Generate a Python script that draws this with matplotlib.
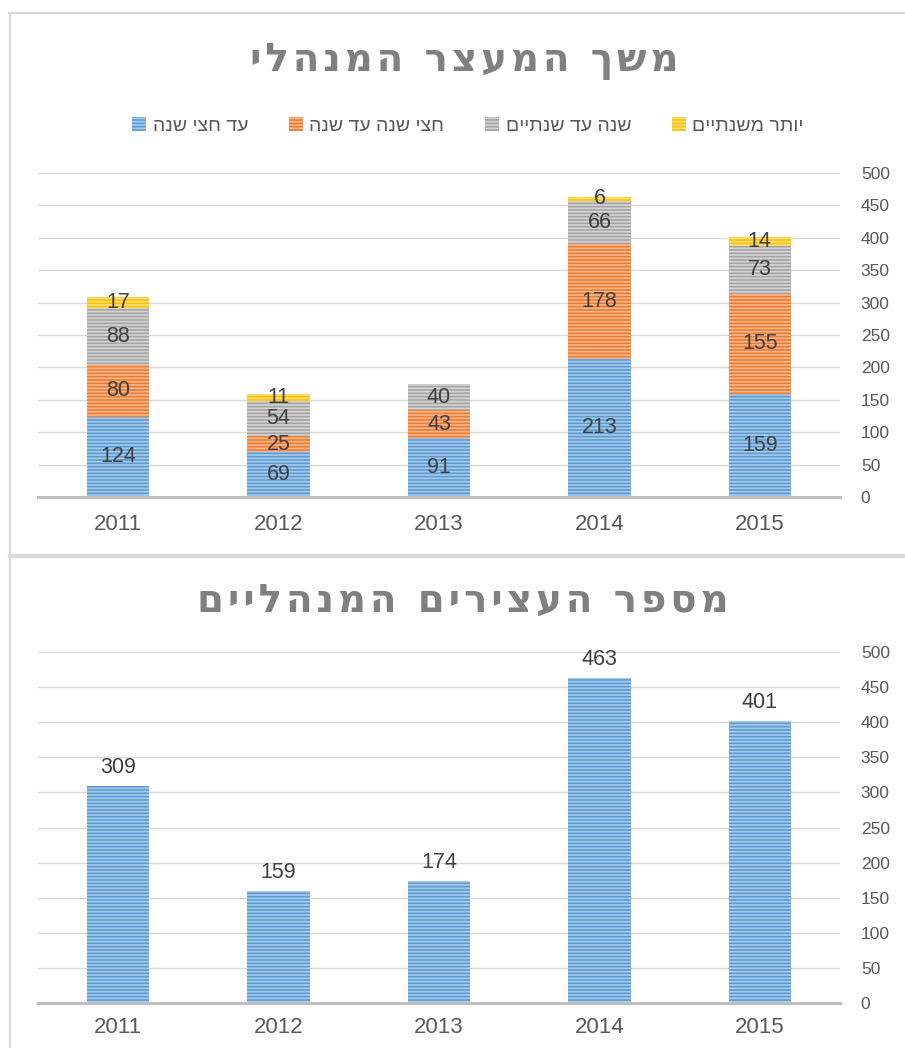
import matplotlib
matplotlib.use("Agg")
import matplotlib.pyplot as plt
from matplotlib.lines import Line2D
from matplotlib.patches import Patch
import numpy as np

# ---------------- data ----------------
years = ["2011", "2012", "2013", "2014", "2015"]
series_names = ["עד חצי שנה", "חצי שנה עד שנה", "שנה עד שנתיים", "יותר משנתיים"]
up_to_half_year = [124, 69, 91, 213, 159]
half_to_one_year = [80, 25, 43, 178, 155]
one_to_two_years = [88, 54, 40, 66, 73]
over_two_years = [17, 11, 0, 6, 14]
total_detainees = [309, 159, 174, 463, 401]
title_top = "משך המעצר המנהלי"
title_bottom = "מספר העצירים המנהליים"
y_ticks = [0, 50, 100, 150, 200, 250, 300, 350, 400, 450, 500]

colors = ["#5B9BD5", "#ED7D31", "#A5A5A5", "#FFC000"]
hatch_colors = ["#A9CBEA", "#F6B68E", "#D4D4D4", "#FFDE80"]

FONT = ["Liberation Sans", "DejaVu Sans"]
plt.rcParams["font.family"] = FONT
plt.rcParams["hatch.linewidth"] = 1.2


def rtl(s):
    return s[::-1]


def spaced(s):
    return "\u200a".join(rtl(s))


W, H = 905, 1048
fig = plt.figure(figsize=(W / 100, H / 100), dpi=100)


def fx(px):
    return px / W


def fy(py):
    return 1 - py / H


# frame / borders
border_c = "#D9D9D9"
fig.add_artist(Line2D([fx(9), 1], [fy(12.5), fy(12.5)], color=border_c, lw=1.6, transform=fig.transFigure))
fig.add_artist(Line2D([fx(10), fx(10)], [fy(12.5), 0], color=border_c, lw=1.6, transform=fig.transFigure))
fig.add_artist(Line2D([fx(10), 1], [fy(555.5), fy(555.5)], color=border_c, lw=3.0, transform=fig.transFigure))

x = np.arange(len(years))
bw = 0.39
label_c = "#404040"
tick_c = "#595959"


def style_axes(ax, xpad):
    ax.set_xlim(-0.5, 4.5)
    ax.set_ylim(0, 500)
    ax.set_yticks(y_ticks)
    ax.yaxis.tick_right()
    ax.tick_params(axis="y", length=0, pad=15, labelsize=12.5, labelcolor=tick_c)
    ax.tick_params(axis="x", length=0, pad=xpad, labelsize=16, labelcolor=tick_c)
    ax.set_xticks(x)
    ax.set_xticklabels(years)
    for s in ["top", "left", "right"]:
        ax.spines[s].set_visible(False)
    ax.spines["bottom"].set_color("#BFBFBF")
    ax.spines["bottom"].set_linewidth(2.2)
    ax.grid(axis="y", color="#D9D9D9", lw=1.0)
    ax.set_axisbelow(True)


# ---------------- top chart ----------------
ax1 = fig.add_axes([fx(38), fy(497), fx(840) - fx(38), fy(173) - fy(497)])
style_axes(ax1, 12)
stack = [up_to_half_year, half_to_one_year, one_to_two_years, over_two_years]
bottom = np.zeros(len(years))
for vals, c, hc in zip(stack, colors, hatch_colors):
    vals = np.array(vals, dtype=float)
    ax1.bar(x, vals, bw, bottom=bottom, color=c, edgecolor=hc, lw=0, hatch="-----")
    for xi, v, b in zip(x, vals, bottom):
        if v > 0:
            ax1.text(xi, b + v / 2, str(int(v)), ha="center", va="center",
                     fontsize=15.5, color=label_c)
    bottom += vals

fig.text(0.513, fy(61), spaced(title_top), ha="center", va="center",
         fontsize=28, fontweight="bold", color="#808080", family=["DejaVu Sans"])

handles = [Patch(facecolor=c, edgecolor=hc, lw=0, hatch="-----") for c, hc in zip(colors, hatch_colors)]
fig.legend(handles, [rtl(s) for s in series_names], loc="center", bbox_to_anchor=(fx(468), fy(126)),
           ncol=4, frameon=False, fontsize=14, labelcolor=tick_c, handlelength=0.7,
           handleheight=0.7, handletextpad=0.35, columnspacing=2.1, markerfirst=True)

# ---------------- bottom chart ----------------
ax2 = fig.add_axes([fx(38), fy(1003), fx(840) - fx(38), fy(652) - fy(1003)])
style_axes(ax2, 10)
ax2.bar(x, total_detainees, bw, color=colors[0], edgecolor=hatch_colors[0], lw=0, hatch="-----")
for xi, v in zip(x, total_detainees):
    ax2.annotate(str(v), (xi, v), xytext=(0, 6), textcoords="offset points",
                 ha="center", va="bottom", fontsize=15.5, color=label_c)

fig.text(0.511, fy(601), spaced(title_bottom), ha="center", va="center",
         fontsize=28, fontweight="bold", color="#808080", family=["DejaVu Sans"])

fig.savefig("out.png", dpi=100, facecolor="white")
